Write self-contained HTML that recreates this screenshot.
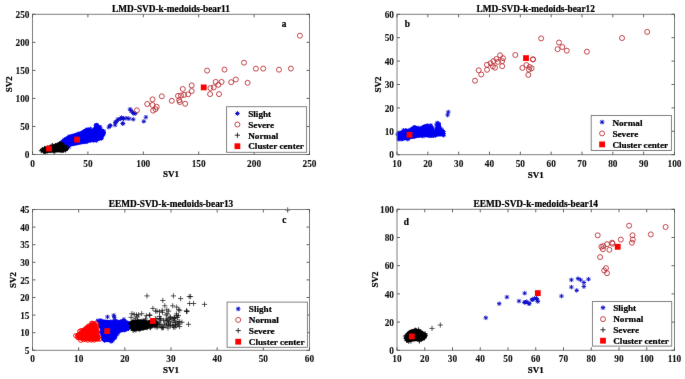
<!DOCTYPE html>
<html><head><meta charset="utf-8"><style>
html,body{margin:0;padding:0;background:#fff;}
svg{display:block;}
text{font-family:"Liberation Serif", serif;fill:#000;stroke:#000;stroke-width:0.22px;}
text.t{stroke-width:0.1px;fill:#111;stroke:#111;}
</style></head><body>
<svg width="685" height="379" viewBox="0 0 685 379">
<defs><filter id="bl" x="0" y="0" width="1" height="1" color-interpolation-filters="sRGB"><feConvolveMatrix order="3" kernelMatrix="0.0035 0.0587 0.0035 0.0587 1.0000 0.0587 0.0035 0.0587 0.0035" edgeMode="duplicate" preserveAlpha="true"/></filter></defs>
<rect width="685" height="379" fill="#fff"/>
<g filter="url(#bl)">
<rect width="685" height="379" fill="#fff"/>
<text x="171" y="11.7" text-anchor="middle" font-size="9.3" font-weight="bold">LMD-SVD-k-medoids-bear11</text>
<path d="M60.4 141.5L62 139.7L66 136.8L70 134.8L75 133.3L80 131.8L83 130.1L86 128.2L89 129L92 129L95 126L97.6 123.2L99.6 125.7L102.1 128.6L104.4 131.2L105.5 133.5L104.6 136L102.8 138L100 140L95 141.5L90 142.5L85 143.5L80 144.5L75 145.5L70 146.5L66.4 147.5L65.5 145L62.7 142.5Z" fill="#0000f0" stroke="#0000f0" stroke-width="0.3" stroke-linejoin="round"/>
<path d="M59.73 142.58H64.13M61.93 140.38V144.78M60.35 141L63.52 144.17M60.35 144.17L63.52 141M61.36 141.66H65.76M63.56 139.46V143.86M61.97 140.08L65.14 143.25M61.97 143.25L65.14 140.08M62.12 139.94H66.52M64.32 137.74V142.14M62.73 138.36L65.9 141.53M62.73 141.53L65.9 138.36M63.97 139.25H68.37M66.17 137.05V141.45M64.58 137.66L67.75 140.83M64.58 140.83L67.75 137.66M65.01 138.74H69.41M67.21 136.54V140.94M65.62 137.16L68.79 140.33M65.62 140.33L68.79 137.16M66.02 138.72H70.42M68.22 136.52V140.92M66.64 137.13L69.81 140.3M66.64 140.3L69.81 137.13M66.86 136.69H71.26M69.06 134.49V138.89M67.48 135.11L70.65 138.27M67.48 138.27L70.65 135.11M68.2 137.06H72.6M70.4 134.86V139.26M68.81 135.48L71.98 138.64M68.81 138.64L71.98 135.48M69.96 136.7H74.36M72.16 134.5V138.9M70.58 135.11L73.74 138.28M70.58 138.28L73.74 135.11M72.12 135.88H76.52M74.32 133.68V138.08M72.74 134.29L75.9 137.46M72.74 137.46L75.9 134.29M73.57 135.68H77.97M75.77 133.48V137.88M74.19 134.1L77.36 137.27M74.19 137.27L77.36 134.1M74.76 134.83H79.16M76.96 132.63V137.03M75.38 133.25L78.54 136.42M75.38 136.42L78.54 133.25M76.83 133.87H81.23M79.03 131.67V136.07M77.45 132.29L80.62 135.45M77.45 135.45L80.62 132.29M78.62 133.39H83.02M80.82 131.19V135.59M79.24 131.81L82.41 134.98M79.24 134.98L82.41 131.81M80.27 132.55H84.67M82.47 130.35V134.75M80.88 130.96L84.05 134.13M80.88 134.13L84.05 130.96M82.34 131.55H86.74M84.54 129.35V133.75M82.96 129.97L86.13 133.14M82.96 133.14L86.13 129.97M83.51 130.9H87.91M85.71 128.7V133.1M84.12 129.32L87.29 132.49M84.12 132.49L87.29 129.32M83.01 131.18H87.41M85.21 128.98V133.38M83.62 129.59L86.79 132.76M83.62 132.76L86.79 129.59M84.81 129.48H89.21M87.01 127.28V131.68M85.42 127.89L88.59 131.06M85.42 131.06L88.59 127.89M86.42 129.83H90.82M88.62 127.63V132.03M87.03 128.25L90.2 131.41M87.03 131.41L90.2 128.25M88.11 128.86H92.51M90.31 126.66V131.06M88.72 127.27L91.89 130.44M88.72 130.44L91.89 127.27M91.23 130.94H95.63M93.43 128.74V133.14M91.85 129.36L95.01 132.53M91.85 132.53L95.01 129.36M92.81 129.59H97.21M95.01 127.39V131.79M93.42 128.01L96.59 131.18M93.42 131.18L96.59 128.01M93.23 128.67H97.63M95.43 126.47V130.87M93.84 127.09L97.01 130.26M93.84 130.26L97.01 127.09M94.29 127.58H98.69M96.49 125.38V129.78M94.91 126L98.08 129.16M94.91 129.16L98.08 126M94.43 124.97H98.83M96.63 122.77V127.17M95.04 123.39L98.21 126.56M95.04 126.56L98.21 123.39M93.47 125.31H97.87M95.67 123.11V127.51M94.08 123.73L97.25 126.89M94.08 126.89L97.25 123.73M94.26 126.03H98.66M96.46 123.83V128.23M94.87 124.45L98.04 127.62M94.87 127.62L98.04 124.45M95.94 126.76H100.34M98.14 124.56V128.96M96.55 125.18L99.72 128.35M96.55 128.35L99.72 125.18M98.05 127.16H102.45M100.25 124.96V129.36M98.66 125.58L101.83 128.74M98.66 128.74L101.83 125.58M97.49 130.62H101.89M99.69 128.42V132.82M98.1 129.04L101.27 132.21M98.1 132.21L101.27 129.04M99.41 131H103.81M101.61 128.8V133.2M100.03 129.42L103.2 132.59M100.03 132.59L103.2 129.42M101.42 131.07H105.82M103.62 128.87V133.27M102.04 129.49L105.21 132.66M102.04 132.66L105.21 129.49M101.65 132.56H106.05M103.85 130.36V134.76M102.27 130.98L105.44 134.14M102.27 134.14L105.44 130.98M100.48 134.07H104.88M102.68 131.87V136.27M101.1 132.48L104.27 135.65M101.1 135.65L104.27 132.48M99.58 136.43H103.98M101.78 134.23V138.63M100.2 134.85L103.37 138.02M100.2 138.02L103.37 134.85M99.33 138.45H103.73M101.53 136.25V140.65M99.95 136.86L103.11 140.03M99.95 140.03L103.11 136.86M96.94 138.57H101.34M99.14 136.37V140.77M97.56 136.99L100.72 140.15M97.56 140.15L100.72 136.99M95.38 139.17H99.78M97.58 136.97V141.37M96 137.59L99.17 140.76M96 140.76L99.17 137.59M94.03 140.66H98.43M96.23 138.46V142.86M94.64 139.08L97.81 142.25M94.64 142.25L97.81 139.08M92.71 139.79H97.11M94.91 137.59V141.99M93.32 138.2L96.49 141.37M93.32 141.37L96.49 138.2M91.16 140.42H95.56M93.36 138.22V142.62M91.77 138.83L94.94 142M91.77 142L94.94 138.83M89.12 139.86H93.52M91.32 137.66V142.06M89.73 138.27L92.9 141.44M89.73 141.44L92.9 138.27M87.01 139.73H91.41M89.21 137.53V141.93M87.63 138.14L90.8 141.31M87.63 141.31L90.8 138.14M85.42 140.31H89.82M87.62 138.11V142.51M86.04 138.72L89.2 141.89M86.04 141.89L89.2 138.72M83.82 141.94H88.22M86.02 139.74V144.14M84.43 140.36L87.6 143.53M84.43 143.53L87.6 140.36M82.66 141.53H87.06M84.86 139.33V143.73M83.27 139.94L86.44 143.11M83.27 143.11L86.44 139.94M80.53 141.68H84.93M82.73 139.48V143.88M81.15 140.1L84.32 143.27M81.15 143.27L84.32 140.1M79.25 141.11H83.65M81.45 138.91V143.31M79.87 139.53L83.03 142.69M79.87 142.69L83.03 139.53M77.25 141.89H81.65M79.45 139.69V144.09M77.87 140.3L81.04 143.47M77.87 143.47L81.04 140.3M75.94 142.24H80.34M78.14 140.04V144.44M76.56 140.65L79.73 143.82M76.56 143.82L79.73 140.65M74.06 142.55H78.46M76.26 140.35V144.75M74.68 140.97L77.85 144.13M74.68 144.13L77.85 140.97M72.64 143.23H77.04M74.84 141.03V145.43M73.26 141.64L76.43 144.81M73.26 144.81L76.43 141.64M70.9 143.02H75.3M73.1 140.82V145.22M71.52 141.43L74.69 144.6M71.52 144.6L74.69 141.43M68.96 143.2H73.36M71.16 141V145.4M69.58 141.61L72.75 144.78M69.58 144.78L72.75 141.61M66.77 143.81H71.17M68.97 141.61V146.01M67.39 142.22L70.56 145.39M67.39 145.39L70.56 142.22M65.42 144.55H69.82M67.62 142.35V146.75M66.04 142.97L69.2 146.14M66.04 146.14L69.2 142.97M66.67 146.88H71.07M68.87 144.68V149.08M67.29 145.29L70.46 148.46M67.29 148.46L70.46 145.29M64.55 143.6H68.95M66.75 141.4V145.8M65.17 142.02L68.34 145.18M65.17 145.18L68.34 142.02M62.64 143.15H67.04M64.84 140.95V145.35M63.26 141.56L66.43 144.73M63.26 144.73L66.43 141.56M60.88 141.35H65.28M63.08 139.15V143.55M61.5 139.76L64.67 142.93M61.5 142.93L64.67 139.76" stroke="#0000f0" stroke-width="1.0" fill="none"/>
<path d="M106.55 127.2H111.05M108.8 124.95V129.45M107.18 125.58L110.42 128.82M107.18 128.82L110.42 125.58M108.05 125.6H112.55M110.3 123.35V127.85M108.68 123.98L111.92 127.22M108.68 127.22L111.92 123.98M112.85 125H117.35M115.1 122.75V127.25M113.48 123.38L116.72 126.62M113.48 126.62L116.72 123.38M113.85 121.9H118.35M116.1 119.65V124.15M114.48 120.28L117.72 123.52M114.48 123.52L117.72 120.28M115.95 119.2H120.45M118.2 116.95V121.45M116.58 117.58L119.82 120.82M116.58 120.82L119.82 117.58M119.15 117.7H123.65M121.4 115.45V119.95M119.78 116.08L123.02 119.32M119.78 119.32L123.02 116.08M120.75 123.5H125.25M123 121.25V125.75M121.38 121.88L124.62 125.12M121.38 125.12L124.62 121.88M121.25 118.7H125.75M123.5 116.45V120.95M121.88 117.08L125.12 120.32M121.88 120.32L125.12 117.08M107.75 125.6H112.25M110 123.35V127.85M108.38 123.98L111.62 127.22M108.38 127.22L111.62 123.98M113.05 122.4H117.55M115.3 120.15V124.65M113.68 120.78L116.92 124.02M113.68 124.02L116.92 120.78M115.15 120.3H119.65M117.4 118.05V122.55M115.78 118.68L119.02 121.92M115.78 121.92L119.02 118.68M118.25 118.7H122.75M120.5 116.45V120.95M118.88 117.08L122.12 120.32M118.88 120.32L122.12 117.08M121.45 118.2H125.95M123.7 115.95V120.45M122.08 116.58L125.32 119.82M122.08 119.82L125.32 116.58M124.65 118.2H129.15M126.9 115.95V120.45M125.28 116.58L128.52 119.82M125.28 119.82L128.52 116.58M126.75 118.7H131.25M129 116.45V120.95M127.38 117.08L130.62 120.32M127.38 120.32L130.62 117.08M120.45 123.5H124.95M122.7 121.25V125.75M121.08 121.88L124.32 125.12M121.08 125.12L124.32 121.88M127.75 109.2H132.25M130 106.95V111.45M128.38 107.58L131.62 110.82M128.38 110.82L131.62 107.58M128.85 110.8H133.35M131.1 108.55V113.05M129.48 109.18L132.72 112.42M129.48 112.42L132.72 109.18M130.45 112.4H134.95M132.7 110.15V114.65M131.08 110.78L134.32 114.02M131.08 114.02L134.32 110.78M131.45 113.5H135.95M133.7 111.25V115.75M132.08 111.88L135.32 115.12M132.08 115.12L135.32 111.88M133.05 113.5H137.55M135.3 111.25V115.75M133.68 111.88L136.92 115.12M133.68 115.12L136.92 111.88M130.95 119.3H135.45M133.2 117.05V121.55M131.58 117.68L134.82 120.92M131.58 120.92L134.82 117.68M143.65 117.2H148.15M145.9 114.95V119.45M144.28 115.58L147.52 118.82M144.28 118.82L147.52 115.58M141.55 121.4H146.05M143.8 119.15V123.65M142.18 119.78L145.42 123.02M142.18 123.02L145.42 119.78" stroke="#0c0cc8" stroke-width="0.9" fill="none"/>
<circle cx="136.9" cy="110.3" r="2.5" fill="none" stroke="#bc3038" stroke-width="0.9"/>
<circle cx="147.2" cy="104" r="2.5" fill="none" stroke="#bc3038" stroke-width="0.9"/>
<circle cx="152.5" cy="99.4" r="2.5" fill="none" stroke="#bc3038" stroke-width="0.9"/>
<circle cx="152.5" cy="105" r="2.5" fill="none" stroke="#bc3038" stroke-width="0.9"/>
<circle cx="156.7" cy="106.8" r="2.5" fill="none" stroke="#bc3038" stroke-width="0.9"/>
<circle cx="155.5" cy="109.1" r="2.5" fill="none" stroke="#bc3038" stroke-width="0.9"/>
<circle cx="153.1" cy="110.6" r="2.5" fill="none" stroke="#bc3038" stroke-width="0.9"/>
<circle cx="161.8" cy="96.3" r="2.5" fill="none" stroke="#bc3038" stroke-width="0.9"/>
<circle cx="171.8" cy="100.8" r="2.5" fill="none" stroke="#bc3038" stroke-width="0.9"/>
<circle cx="178" cy="95.9" r="2.5" fill="none" stroke="#bc3038" stroke-width="0.9"/>
<circle cx="181" cy="95.5" r="2.5" fill="none" stroke="#bc3038" stroke-width="0.9"/>
<circle cx="184" cy="94.9" r="2.5" fill="none" stroke="#bc3038" stroke-width="0.9"/>
<circle cx="188.1" cy="94.3" r="2.5" fill="none" stroke="#bc3038" stroke-width="0.9"/>
<circle cx="182.8" cy="89" r="2.5" fill="none" stroke="#bc3038" stroke-width="0.9"/>
<circle cx="191.7" cy="85.4" r="2.5" fill="none" stroke="#bc3038" stroke-width="0.9"/>
<circle cx="191.7" cy="91.1" r="2.5" fill="none" stroke="#bc3038" stroke-width="0.9"/>
<circle cx="179.2" cy="100.2" r="2.5" fill="none" stroke="#bc3038" stroke-width="0.9"/>
<circle cx="179.8" cy="102" r="2.5" fill="none" stroke="#bc3038" stroke-width="0.9"/>
<circle cx="185.2" cy="103.8" r="2.5" fill="none" stroke="#bc3038" stroke-width="0.9"/>
<circle cx="207.1" cy="70.6" r="2.5" fill="none" stroke="#bc3038" stroke-width="0.9"/>
<circle cx="224.5" cy="69.6" r="2.5" fill="none" stroke="#bc3038" stroke-width="0.9"/>
<circle cx="244" cy="62.7" r="2.5" fill="none" stroke="#bc3038" stroke-width="0.9"/>
<circle cx="255.9" cy="68.7" r="2.5" fill="none" stroke="#bc3038" stroke-width="0.9"/>
<circle cx="215.7" cy="81.9" r="2.5" fill="none" stroke="#bc3038" stroke-width="0.9"/>
<circle cx="218.3" cy="84.8" r="2.5" fill="none" stroke="#bc3038" stroke-width="0.9"/>
<circle cx="221.6" cy="81.9" r="2.5" fill="none" stroke="#bc3038" stroke-width="0.9"/>
<circle cx="231.2" cy="82.2" r="2.5" fill="none" stroke="#bc3038" stroke-width="0.9"/>
<circle cx="235.8" cy="79.5" r="2.5" fill="none" stroke="#bc3038" stroke-width="0.9"/>
<circle cx="247.6" cy="82.8" r="2.5" fill="none" stroke="#bc3038" stroke-width="0.9"/>
<circle cx="210.4" cy="88.1" r="2.5" fill="none" stroke="#bc3038" stroke-width="0.9"/>
<circle cx="213.7" cy="87.4" r="2.5" fill="none" stroke="#bc3038" stroke-width="0.9"/>
<circle cx="210.1" cy="94.1" r="2.5" fill="none" stroke="#bc3038" stroke-width="0.9"/>
<circle cx="219" cy="94.1" r="2.5" fill="none" stroke="#bc3038" stroke-width="0.9"/>
<circle cx="263.2" cy="68.6" r="2.5" fill="none" stroke="#bc3038" stroke-width="0.9"/>
<circle cx="279" cy="69.7" r="2.5" fill="none" stroke="#bc3038" stroke-width="0.9"/>
<circle cx="290.9" cy="68.6" r="2.5" fill="none" stroke="#bc3038" stroke-width="0.9"/>
<circle cx="299.9" cy="35.7" r="2.5" fill="none" stroke="#bc3038" stroke-width="0.9"/>
<path d="M40.1 149.8L41.5 148.3L44.2 147.2L48.9 145.8L53.5 144.3L57.2 143L60.4 141.6L62.7 142.5L65.5 145.5L67.3 147.7L68.7 149.2L67.3 150.8L62.7 152.3L58.1 152.3L53.5 152.5L48.9 152.8L44.2 152.8L41.5 152.1Z" fill="#000000" stroke="#000000" stroke-width="0.3" stroke-linejoin="round"/>
<path d="M38.87 150.81H43.67M41.27 148.41V153.21M40 149.48H44.8M42.4 147.08V151.88M41.65 150.23H46.45M44.05 147.83V152.63M42.15 148.29H46.95M44.55 145.89V150.69M43.61 148.41H48.41M46.01 146.01V150.81M45.23 147.87H50.03M47.63 145.47V150.27M47.4 147.85H52.2M49.8 145.45V150.25M48.31 147.02H53.11M50.71 144.62V149.42M49.85 145.27H54.65M52.25 142.87V147.67M51.77 147.11H56.57M54.17 144.71V149.51M53.15 145.65H57.95M55.55 143.25V148.05M55.7 144.75H60.5M58.1 142.35V147.15M57.03 144.56H61.83M59.43 142.16V146.96M57.09 143.68H61.89M59.49 141.28V146.08M58.72 143.98H63.52M61.12 141.58V146.38M60.3 145.09H65.1M62.7 142.69V147.49M61.34 147.38H66.14M63.74 144.98V149.78M62.02 147.67H66.82M64.42 145.27V150.07M63.5 148.69H68.3M65.9 146.29V151.09M64.3 147.2H69.1M66.7 144.8V149.6M64.11 148.75H68.91M66.51 146.35V151.15M63.02 150.14H67.82M65.42 147.74V152.54M61.17 150.32H65.97M63.57 147.92V152.72M60.47 150.28H65.27M62.87 147.88V152.68M58.62 150.73H63.42M61.02 148.33V153.13M57.05 149.58H61.85M59.45 147.18V151.98M55.56 149.51H60.36M57.96 147.11V151.91M53.92 149.57H58.72M56.32 147.17V151.97M52.41 151.32H57.21M54.81 148.92V153.72M51.24 151.1H56.04M53.64 148.7V153.5M49.33 150.08H54.13M51.73 147.68V152.48M47.65 150.4H52.45M50.05 148V152.8M46.59 150H51.39M48.99 147.6V152.4M45.08 150.95H49.88M47.48 148.55V153.35M43.19 152.67H47.99M45.59 150.27V155.07M42.2 152.06H47M44.6 149.66V154.46M41.1 151.37H45.9M43.5 148.97V153.77" stroke="#000000" stroke-width="0.9" fill="none"/>
<rect x="46.1" y="145.7" width="5.8" height="5.8" fill="#ff0000"/>
<rect x="74.2" y="136.7" width="5.8" height="5.8" fill="#ff0000"/>
<rect x="200.8" y="84.5" width="5.8" height="5.8" fill="#ff0000"/>
<rect x="32.5" y="14.3" width="277" height="140.2" fill="none" stroke="#808080" stroke-width="1"/>
<text x="32.5" y="166.5" text-anchor="middle" font-size="9.3" font-weight="bold" class="t">0</text>
<text x="87.9" y="166.5" text-anchor="middle" font-size="9.3" font-weight="bold" class="t">50</text>
<text x="143.3" y="166.5" text-anchor="middle" font-size="9.3" font-weight="bold" class="t">100</text>
<text x="198.7" y="166.5" text-anchor="middle" font-size="9.3" font-weight="bold" class="t">150</text>
<text x="254.1" y="166.5" text-anchor="middle" font-size="9.3" font-weight="bold" class="t">200</text>
<text x="309.5" y="166.5" text-anchor="middle" font-size="9.3" font-weight="bold" class="t">250</text>
<text x="29.5" y="158.1" text-anchor="end" font-size="9.3" font-weight="bold" class="t">0</text>
<text x="29.5" y="130.06" text-anchor="end" font-size="9.3" font-weight="bold" class="t">50</text>
<text x="29.5" y="102.02" text-anchor="end" font-size="9.3" font-weight="bold" class="t">100</text>
<text x="29.5" y="73.98" text-anchor="end" font-size="9.3" font-weight="bold" class="t">150</text>
<text x="29.5" y="45.94" text-anchor="end" font-size="9.3" font-weight="bold" class="t">200</text>
<text x="29.5" y="17.9" text-anchor="end" font-size="9.3" font-weight="bold" class="t">250</text>
<path d="M32.5 154.5v-3M32.5 14.3v3M87.9 154.5v-3M87.9 14.3v3M143.3 154.5v-3M143.3 14.3v3M198.7 154.5v-3M198.7 14.3v3M254.1 154.5v-3M254.1 14.3v3M309.5 154.5v-3M309.5 14.3v3M32.5 154.5h3M309.5 154.5h-3M32.5 126.46h3M309.5 126.46h-3M32.5 98.42h3M309.5 98.42h-3M32.5 70.38h3M309.5 70.38h-3M32.5 42.34h3M309.5 42.34h-3M32.5 14.3h3M309.5 14.3h-3" stroke="#505050" stroke-width="0.9" fill="none"/>
<text x="171" y="177.3" text-anchor="middle" font-size="9" font-weight="bold">SV1</text>
<text transform="translate(12.2 84.3) rotate(-90)" text-anchor="middle" font-size="9" font-weight="bold">SV2</text>
<text x="281.8" y="26.8" font-size="9.3" font-weight="bold">a</text>
<rect x="226.6" y="106.7" width="80" height="45.6" fill="#fff" stroke="#767676" stroke-width="0.9"/>
<path d="M235.1 113.5H239.7M237.4 111.2V115.8M235.74 111.84L239.06 115.16M235.74 115.16L239.06 111.84" stroke="#0c0cc8" stroke-width="1.0" fill="none"/>
<text x="248.2" y="116.6" font-size="9.2" font-weight="bold">Slight</text>
<circle cx="237.4" cy="124.5" r="2.5" fill="none" stroke="#bc3038" stroke-width="0.9"/>
<text x="248.2" y="127.7" font-size="9.2" font-weight="bold">Severe</text>
<path d="M234.8 135.2H240M237.4 132.6V137.8" stroke="#000000" stroke-width="0.8" fill="none"/>
<text x="248.2" y="138.5" font-size="9.2" font-weight="bold">Normal</text>
<rect x="234.5" y="143.3" width="5.8" height="5.8" fill="#ff0000"/>
<text x="248.2" y="149.4" font-size="9.2" font-weight="bold">Cluster center</text>
<text x="535.75" y="11.7" text-anchor="middle" font-size="9.3" font-weight="bold">LMD-SVD-k-medoids-bear12</text>
<path d="M397.2 132.4L397.9 131.5L403.7 130.2L409.5 128.8L413.4 125.6L415.8 125.6L418.6 127.6L421.5 126.4L424 124.8L427.8 124L430.7 125L433.5 127.8L434.8 130L435.8 126L436.8 122.3L438.6 122.3L440.5 124.8L441.2 128.4L443.4 131.3L445.6 133.4L444 135.5L439.5 136L432.7 137.6L424 137L416.8 137.7L409.5 139.2L402.3 140.6L397.2 139.2Z" fill="#0000f0" stroke="#0000f0" stroke-width="0.3" stroke-linejoin="round"/>
<path d="M397.4 133.83H401.8M399.6 131.63V136.03M398.01 132.25L401.18 135.42M398.01 135.42L401.18 132.25M396.5 134.29H400.9M398.7 132.09V136.49M397.12 132.7L400.29 135.87M397.12 135.87L400.29 132.7M398.06 133.32H402.46M400.26 131.12V135.52M398.68 131.74L401.85 134.9M398.68 134.9L401.85 131.74M399.07 133.53H403.47M401.27 131.33V135.73M399.69 131.94L402.86 135.11M399.69 135.11L402.86 131.94M400.64 131.9H405.04M402.84 129.7V134.1M401.25 130.32L404.42 133.48M401.25 133.48L404.42 130.32M401.57 130.2H405.97M403.77 128V132.4M402.18 128.62L405.35 131.79M402.18 131.79L405.35 128.62M403.39 130.49H407.79M405.59 128.29V132.69M404.01 128.9L407.17 132.07M404.01 132.07L407.17 128.9M404.42 130.71H408.82M406.62 128.51V132.91M405.03 129.13L408.2 132.3M405.03 132.3L408.2 129.13M406.19 130.75H410.59M408.39 128.55V132.95M406.8 129.16L409.97 132.33M406.8 132.33L409.97 129.16M408.24 129.88H412.64M410.44 127.68V132.08M408.85 128.3L412.02 131.46M408.85 131.46L412.02 128.3M410.21 130.05H414.61M412.41 127.85V132.25M410.82 128.47L413.99 131.64M410.82 131.64L413.99 128.47M411.4 128.49H415.8M413.6 126.29V130.69M412.02 126.91L415.19 130.08M412.02 130.08L415.19 126.91M411.47 128.68H415.87M413.67 126.48V130.88M412.08 127.1L415.25 130.27M412.08 130.27L415.25 127.1M412.22 127.62H416.62M414.42 125.42V129.82M412.83 126.04L416 129.21M412.83 129.21L416 126.04M413.68 128.32H418.08M415.88 126.12V130.52M414.3 126.74L417.47 129.91M414.3 129.91L417.47 126.74M416.53 127.9H420.93M418.73 125.7V130.1M417.14 126.32L420.31 129.49M417.14 129.49L420.31 126.32M418.88 129.19H423.28M421.08 126.99V131.39M419.49 127.61L422.66 130.77M419.49 130.77L422.66 127.61M419.98 127.78H424.38M422.18 125.58V129.98M420.6 126.19L423.76 129.36M420.6 129.36L423.76 126.19M421.58 127.25H425.98M423.78 125.05V129.45M422.2 125.67L425.36 128.84M422.2 128.84L425.36 125.67M421.97 126.64H426.37M424.17 124.44V128.84M422.58 125.06L425.75 128.23M422.58 128.23L425.75 125.06M423.94 126.96H428.34M426.14 124.76V129.16M424.55 125.37L427.72 128.54M424.55 128.54L427.72 125.37M424.85 125.6H429.25M427.05 123.4V127.8M425.47 124.02L428.63 127.19M425.47 127.19L428.63 124.02M426.41 126.91H430.81M428.61 124.71V129.11M427.02 125.33L430.19 128.5M427.02 128.5L430.19 125.33M428.63 125.29H433.03M430.83 123.09V127.49M429.25 123.71L432.41 126.88M429.25 126.88L432.41 123.71M428.23 128.22H432.63M430.43 126.02V130.42M428.84 126.64L432.01 129.8M428.84 129.8L432.01 126.64M430.31 127.95H434.71M432.51 125.75V130.15M430.92 126.36L434.09 129.53M430.92 129.53L434.09 126.36M434.34 130.42H438.74M436.54 128.22V132.62M434.95 128.84L438.12 132.01M434.95 132.01L438.12 128.84M434.66 128.52H439.06M436.86 126.32V130.72M435.27 126.93L438.44 130.1M435.27 130.1L438.44 126.93M436.05 126.5H440.45M438.25 124.3V128.7M436.67 124.92L439.84 128.09M436.67 128.09L439.84 124.92M436.57 124.86H440.97M438.77 122.66V127.06M437.18 123.28L440.35 126.45M437.18 126.45L440.35 123.28M434.25 124.91H438.65M436.45 122.71V127.11M434.87 123.33L438.04 126.5M434.87 126.5L438.04 123.33M435.06 122.93H439.46M437.26 120.73V125.13M435.67 121.35L438.84 124.52M435.67 124.52L438.84 121.35M436.56 123.75H440.96M438.76 121.55V125.95M437.17 122.17L440.34 125.34M437.17 125.34L440.34 122.17M436 124.96H440.4M438.2 122.76V127.16M436.61 123.38L439.78 126.55M436.61 126.55L439.78 123.38M436.96 126.78H441.36M439.16 124.58V128.98M437.58 125.19L440.75 128.36M437.58 128.36L440.75 125.19M438.81 129.17H443.21M441.01 126.97V131.37M439.43 127.59L442.59 130.76M439.43 130.76L442.59 127.59M439.38 129.91H443.78M441.58 127.71V132.11M439.99 128.33L443.16 131.5M439.99 131.5L443.16 128.33M439.74 132.35H444.14M441.94 130.15V134.55M440.36 130.77L443.53 133.94M440.36 133.94L443.53 130.77M440.71 134.29H445.11M442.91 132.09V136.49M441.33 132.71L444.5 135.88M441.33 135.88L444.5 132.71M441.3 131.55H445.7M443.5 129.35V133.75M441.92 129.97L445.08 133.14M441.92 133.14L445.08 129.97M441.49 135.26H445.89M443.69 133.06V137.46M442.1 133.67L445.27 136.84M442.1 136.84L445.27 133.67M439.85 133.34H444.25M442.05 131.14V135.54M440.47 131.76L443.63 134.92M440.47 134.92L443.63 131.76M438.67 134.44H443.07M440.87 132.24V136.64M439.29 132.86L442.46 136.02M439.29 136.02L442.46 132.86M436.84 134.13H441.24M439.04 131.93V136.33M437.46 132.54L440.62 135.71M437.46 135.71L440.62 132.54M435.16 133.7H439.56M437.36 131.5V135.9M435.78 132.11L438.95 135.28M435.78 135.28L438.95 132.11M433.29 135.26H437.69M435.49 133.06V137.46M433.91 133.67L437.07 136.84M433.91 136.84L437.07 133.67M431.45 135.61H435.85M433.65 133.41V137.81M432.07 134.02L435.24 137.19M432.07 137.19L435.24 134.02M430.29 134.7H434.69M432.49 132.5V136.9M430.91 133.11L434.08 136.28M430.91 136.28L434.08 133.11M429.31 135.06H433.71M431.51 132.86V137.26M429.92 133.48L433.09 136.65M429.92 136.65L433.09 133.48M427.75 135.93H432.15M429.95 133.73V138.13M428.36 134.35L431.53 137.51M428.36 137.51L431.53 134.35M426.53 134.8H430.93M428.73 132.6V137M427.15 133.22L430.32 136.39M427.15 136.39L430.32 133.22M424.71 134.61H429.11M426.91 132.41V136.81M425.32 133.02L428.49 136.19M425.32 136.19L428.49 133.02M423.22 134.38H427.62M425.42 132.18V136.58M423.84 132.8L427.01 135.97M423.84 135.97L427.01 132.8M421.96 134.98H426.36M424.16 132.78V137.18M422.57 133.39L425.74 136.56M422.57 136.56L425.74 133.39M420.65 136.08H425.05M422.85 133.88V138.28M421.27 134.5L424.44 137.67M421.27 137.67L424.44 134.5M418.98 134.19H423.38M421.18 131.99V136.39M419.59 132.6L422.76 135.77M419.59 135.77L422.76 132.6M417.35 135.43H421.75M419.55 133.23V137.63M417.97 133.85L421.13 137.02M417.97 137.02L421.13 133.85M415.7 135.42H420.1M417.9 133.22V137.62M416.31 133.83L419.48 137M416.31 137L419.48 133.83M413.82 135.8H418.22M416.02 133.6V138M414.43 134.22L417.6 137.39M414.43 137.39L417.6 134.22M412.73 136.5H417.13M414.93 134.3V138.7M413.35 134.92L416.52 138.09M413.35 138.09L416.52 134.92M411.38 136.27H415.78M413.58 134.07V138.47M412 134.69L415.16 137.86M412 137.86L415.16 134.69M410.1 136.56H414.5M412.3 134.36V138.76M410.72 134.98L413.88 138.15M410.72 138.15L413.88 134.98M408.16 136.52H412.56M410.36 134.32V138.72M408.78 134.93L411.94 138.1M408.78 138.1L411.94 134.93M406.7 136.35H411.1M408.9 134.15V138.55M407.32 134.76L410.48 137.93M407.32 137.93L410.48 134.76M405.64 139.29H410.04M407.84 137.09V141.49M406.26 137.71L409.42 140.88M406.26 140.88L409.42 137.71M403.8 137.21H408.2M406 135.01V139.41M404.42 135.63L407.59 138.8M404.42 138.8L407.59 135.63M402.3 137.79H406.7M404.5 135.59V139.99M402.92 136.2L406.08 139.37M402.92 139.37L406.08 136.2M400.62 137.2H405.02M402.82 135V139.4M401.24 135.62L404.41 138.79M401.24 138.79L404.41 135.62M400.31 138.99H404.71M402.51 136.79V141.19M400.93 137.41L404.1 140.57M400.93 140.57L404.1 137.41M398.81 139.15H403.21M401.01 136.95V141.35M399.43 137.56L402.59 140.73M399.43 140.73L402.59 137.56M397.2 137.31H401.6M399.4 135.11V139.51M397.81 135.73L400.98 138.9M397.81 138.9L400.98 135.73M396.56 139.34H400.96M398.76 137.14V141.54M397.18 137.76L400.35 140.93M397.18 140.93L400.35 137.76M396.91 137.73H401.31M399.11 135.53V139.93M397.53 136.15L400.69 139.32M397.53 139.32L400.69 136.15M396.79 136.11H401.19M398.99 133.91V138.31M397.41 134.53L400.58 137.7M397.41 137.7L400.58 134.53M395.4 134.26H399.8M397.6 132.06V136.46M396.02 132.68L399.19 135.84M396.02 135.84L399.19 132.68" stroke="#0000f0" stroke-width="1.0" fill="none"/>
<path d="M446.05 112H450.55M448.3 109.75V114.25M446.68 110.38L449.92 113.62M446.68 113.62L449.92 110.38M445.35 115H449.85M447.6 112.75V117.25M445.98 113.38L449.22 116.62M445.98 116.62L449.22 113.38" stroke="#0c0cc8" stroke-width="0.9" fill="none"/>
<circle cx="475" cy="80.7" r="2.5" fill="none" stroke="#bc3038" stroke-width="0.9"/>
<circle cx="478.7" cy="70.3" r="2.5" fill="none" stroke="#bc3038" stroke-width="0.9"/>
<circle cx="481.2" cy="74.5" r="2.5" fill="none" stroke="#bc3038" stroke-width="0.9"/>
<circle cx="487" cy="64.8" r="2.5" fill="none" stroke="#bc3038" stroke-width="0.9"/>
<circle cx="487" cy="69.8" r="2.5" fill="none" stroke="#bc3038" stroke-width="0.9"/>
<circle cx="490.6" cy="63.3" r="2.5" fill="none" stroke="#bc3038" stroke-width="0.9"/>
<circle cx="492.8" cy="66.2" r="2.5" fill="none" stroke="#bc3038" stroke-width="0.9"/>
<circle cx="493.5" cy="61.1" r="2.5" fill="none" stroke="#bc3038" stroke-width="0.9"/>
<circle cx="495" cy="67.7" r="2.5" fill="none" stroke="#bc3038" stroke-width="0.9"/>
<circle cx="496.4" cy="59" r="2.5" fill="none" stroke="#bc3038" stroke-width="0.9"/>
<circle cx="497.9" cy="61.9" r="2.5" fill="none" stroke="#bc3038" stroke-width="0.9"/>
<circle cx="500.1" cy="55.3" r="2.5" fill="none" stroke="#bc3038" stroke-width="0.9"/>
<circle cx="503" cy="58.2" r="2.5" fill="none" stroke="#bc3038" stroke-width="0.9"/>
<circle cx="502.2" cy="61.1" r="2.5" fill="none" stroke="#bc3038" stroke-width="0.9"/>
<circle cx="502.2" cy="66.2" r="2.5" fill="none" stroke="#bc3038" stroke-width="0.9"/>
<circle cx="515.3" cy="55" r="2.5" fill="none" stroke="#bc3038" stroke-width="0.9"/>
<circle cx="532.9" cy="59.4" r="2.5" fill="none" stroke="#bc3038" stroke-width="0.9"/>
<circle cx="522.4" cy="67.9" r="2.5" fill="none" stroke="#bc3038" stroke-width="0.9"/>
<circle cx="526.4" cy="65" r="2.5" fill="none" stroke="#bc3038" stroke-width="0.9"/>
<circle cx="529.6" cy="67" r="2.5" fill="none" stroke="#bc3038" stroke-width="0.9"/>
<circle cx="531.6" cy="68.3" r="2.5" fill="none" stroke="#bc3038" stroke-width="0.9"/>
<circle cx="529" cy="69.6" r="2.5" fill="none" stroke="#bc3038" stroke-width="0.9"/>
<circle cx="528.3" cy="74.9" r="2.5" fill="none" stroke="#bc3038" stroke-width="0.9"/>
<circle cx="533.1" cy="59.3" r="2.5" fill="none" stroke="#bc3038" stroke-width="0.9"/>
<circle cx="541.2" cy="38.4" r="2.5" fill="none" stroke="#bc3038" stroke-width="0.9"/>
<circle cx="559" cy="42.5" r="2.5" fill="none" stroke="#bc3038" stroke-width="0.9"/>
<circle cx="557.6" cy="49.2" r="2.5" fill="none" stroke="#bc3038" stroke-width="0.9"/>
<circle cx="562.3" cy="47" r="2.5" fill="none" stroke="#bc3038" stroke-width="0.9"/>
<circle cx="566.8" cy="50.7" r="2.5" fill="none" stroke="#bc3038" stroke-width="0.9"/>
<circle cx="586.9" cy="51.7" r="2.5" fill="none" stroke="#bc3038" stroke-width="0.9"/>
<circle cx="622" cy="38" r="2.5" fill="none" stroke="#bc3038" stroke-width="0.9"/>
<circle cx="647.2" cy="31.9" r="2.5" fill="none" stroke="#bc3038" stroke-width="0.9"/>
<rect x="406.6" y="131.9" width="5.8" height="5.8" fill="#ff0000"/>
<rect x="523.1" y="55.2" width="5.8" height="5.8" fill="#ff0000"/>
<rect x="397" y="14.3" width="277.5" height="140.4" fill="none" stroke="#808080" stroke-width="1"/>
<text x="397" y="166.7" text-anchor="middle" font-size="9.3" font-weight="bold" class="t">10</text>
<text x="427.83" y="166.7" text-anchor="middle" font-size="9.3" font-weight="bold" class="t">20</text>
<text x="458.67" y="166.7" text-anchor="middle" font-size="9.3" font-weight="bold" class="t">30</text>
<text x="489.5" y="166.7" text-anchor="middle" font-size="9.3" font-weight="bold" class="t">40</text>
<text x="520.33" y="166.7" text-anchor="middle" font-size="9.3" font-weight="bold" class="t">50</text>
<text x="551.17" y="166.7" text-anchor="middle" font-size="9.3" font-weight="bold" class="t">60</text>
<text x="582" y="166.7" text-anchor="middle" font-size="9.3" font-weight="bold" class="t">70</text>
<text x="612.83" y="166.7" text-anchor="middle" font-size="9.3" font-weight="bold" class="t">80</text>
<text x="643.67" y="166.7" text-anchor="middle" font-size="9.3" font-weight="bold" class="t">90</text>
<text x="674.5" y="166.7" text-anchor="middle" font-size="9.3" font-weight="bold" class="t">100</text>
<text x="394" y="158.3" text-anchor="end" font-size="9.3" font-weight="bold" class="t">0</text>
<text x="394" y="134.9" text-anchor="end" font-size="9.3" font-weight="bold" class="t">10</text>
<text x="394" y="111.5" text-anchor="end" font-size="9.3" font-weight="bold" class="t">20</text>
<text x="394" y="88.1" text-anchor="end" font-size="9.3" font-weight="bold" class="t">30</text>
<text x="394" y="64.7" text-anchor="end" font-size="9.3" font-weight="bold" class="t">40</text>
<text x="394" y="41.3" text-anchor="end" font-size="9.3" font-weight="bold" class="t">50</text>
<text x="394" y="17.9" text-anchor="end" font-size="9.3" font-weight="bold" class="t">60</text>
<path d="M397 154.7v-3M397 14.3v3M427.83 154.7v-3M427.83 14.3v3M458.67 154.7v-3M458.67 14.3v3M489.5 154.7v-3M489.5 14.3v3M520.33 154.7v-3M520.33 14.3v3M551.17 154.7v-3M551.17 14.3v3M582 154.7v-3M582 14.3v3M612.83 154.7v-3M612.83 14.3v3M643.67 154.7v-3M643.67 14.3v3M674.5 154.7v-3M674.5 14.3v3M397 154.7h3M674.5 154.7h-3M397 131.3h3M674.5 131.3h-3M397 107.9h3M674.5 107.9h-3M397 84.5h3M674.5 84.5h-3M397 61.1h3M674.5 61.1h-3M397 37.7h3M674.5 37.7h-3M397 14.3h3M674.5 14.3h-3" stroke="#505050" stroke-width="0.9" fill="none"/>
<text x="535.75" y="177.5" text-anchor="middle" font-size="9" font-weight="bold">SV1</text>
<text transform="translate(381.2 84.4) rotate(-90)" text-anchor="middle" font-size="9" font-weight="bold">SV2</text>
<text x="404.8" y="27" font-size="9.3" font-weight="bold">b</text>
<rect x="591.2" y="115.5" width="80.2" height="35" fill="#fff" stroke="#767676" stroke-width="0.9"/>
<path d="M599.8 122.1H604.4M602.1 119.8V124.4M600.44 120.44L603.76 123.76M600.44 123.76L603.76 120.44" stroke="#0c0cc8" stroke-width="1.0" fill="none"/>
<text x="612.4" y="125.6" font-size="9.2" font-weight="bold">Normal</text>
<circle cx="602.1" cy="133.4" r="2.5" fill="none" stroke="#bc3038" stroke-width="0.9"/>
<text x="612.4" y="136.5" font-size="9.2" font-weight="bold">Severe</text>
<rect x="599.2" y="141.5" width="5.8" height="5.8" fill="#ff0000"/>
<text x="612.4" y="147.5" font-size="9.2" font-weight="bold">Cluster center</text>
<text x="171" y="206.9" text-anchor="middle" font-size="9.3" font-weight="bold">EEMD-SVD-k-medoids-bear13</text>
<path d="M98 320.6L101.7 319.5L107 320L112.2 320.6L117.5 320.6L122.8 319.5L127 320.6L130.2 322.7L131.2 326.9L129.1 330.1L124.9 331.6L120.7 332.2L117.5 334.3L116.5 337.5L114.4 340.1L111.2 342.2L105.9 341.7L101.7 340.6L100.6 331.1L98.5 325.8Z" fill="#0000f0" stroke="#0000f0" stroke-width="0.3" stroke-linejoin="round"/>
<path d="M95.59 320.78H99.99M97.79 318.58V322.98M96.21 319.19L99.37 322.36M96.21 322.36L99.37 319.19M97.89 320.32H102.29M100.09 318.12V322.52M98.51 318.74L101.68 321.91M98.51 321.91L101.68 318.74M98.96 321.09H103.36M101.16 318.89V323.29M99.57 319.51L102.74 322.68M99.57 322.68L102.74 319.51M100.71 322.84H105.11M102.91 320.64V325.04M101.33 321.26L104.5 324.43M101.33 324.43L104.5 321.26M103.19 322.19H107.59M105.39 319.99V324.39M103.8 320.61L106.97 323.78M103.8 323.78L106.97 320.61M104.8 322.8H109.2M107 320.6V325M105.41 321.22L108.58 324.39M105.41 324.39L108.58 321.22M105.89 322.81H110.29M108.09 320.61V325.01M106.51 321.23L109.67 324.4M106.51 324.4L109.67 321.23M108.17 321.79H112.57M110.37 319.59V323.99M108.78 320.2L111.95 323.37M108.78 323.37L111.95 320.2M110.37 323.07H114.77M112.57 320.87V325.27M110.98 321.48L114.15 324.65M110.98 324.65L114.15 321.48M111.48 321.03H115.88M113.68 318.83V323.23M112.09 319.44L115.26 322.61M112.09 322.61L115.26 319.44M113.36 320.65H117.76M115.56 318.45V322.85M113.98 319.06L117.15 322.23M113.98 322.23L117.15 319.06M115.45 321.7H119.85M117.65 319.5V323.9M116.07 320.12L119.24 323.29M116.07 323.29L119.24 320.12M117.43 323.02H121.83M119.63 320.82V325.22M118.05 321.43L121.22 324.6M118.05 324.6L121.22 321.43M119.1 322.21H123.5M121.3 320.01V324.41M119.71 320.62L122.88 323.79M119.71 323.79L122.88 320.62M120.04 321.18H124.44M122.24 318.98V323.38M120.66 319.59L123.83 322.76M120.66 322.76L123.83 319.59M121.69 320.52H126.09M123.89 318.32V322.72M122.3 318.94L125.47 322.11M122.3 322.11L125.47 318.94M123.1 322.47H127.5M125.3 320.27V324.67M123.71 320.89L126.88 324.06M123.71 324.06L126.88 320.89M123.15 322.74H127.55M125.35 320.54V324.94M123.77 321.16L126.93 324.32M123.77 324.32L126.93 321.16M125.27 323.16H129.67M127.47 320.96V325.36M125.89 321.58L129.05 324.74M125.89 324.74L129.05 321.58M126.81 323.08H131.21M129.01 320.88V325.28M127.43 321.5L130.6 324.67M127.43 324.67L130.6 321.5M126.56 324.71H130.96M128.76 322.51V326.91M127.18 323.12L130.35 326.29M127.18 326.29L130.35 323.12M125.54 325.97H129.94M127.74 323.77V328.17M126.15 324.39L129.32 327.55M126.15 327.55L129.32 324.39M126.84 325.09H131.24M129.04 322.89V327.29M127.45 323.5L130.62 326.67M127.45 326.67L130.62 323.5M126.22 327.19H130.62M128.42 324.99V329.39M126.83 325.61L130 328.78M126.83 328.78L130 325.61M126.17 328.7H130.57M128.37 326.5V330.9M126.79 327.12L129.96 330.29M126.79 330.29L129.96 327.12M125.04 328.6H129.44M127.24 326.4V330.8M125.66 327.02L128.83 330.18M125.66 330.18L128.83 327.02M123.05 329.02H127.45M125.25 326.82V331.22M123.67 327.44L126.84 330.61M123.67 330.61L126.84 327.44M122.58 330.16H126.98M124.78 327.96V332.36M123.19 328.57L126.36 331.74M123.19 331.74L126.36 328.57M121 329.44H125.4M123.2 327.24V331.64M121.62 327.86L124.78 331.03M121.62 331.03L124.78 327.86M119.84 330.1H124.24M122.04 327.9V332.3M120.45 328.52L123.62 331.69M120.45 331.69L123.62 328.52M116.62 329.55H121.02M118.82 327.35V331.75M117.23 327.96L120.4 331.13M117.23 331.13L120.4 327.96M116.19 332.15H120.59M118.39 329.95V334.35M116.81 330.56L119.98 333.73M116.81 333.73L119.98 330.56M115.08 334.02H119.48M117.28 331.82V336.22M115.69 332.44L118.86 335.61M115.69 335.61L118.86 332.44M112.96 335.45H117.36M115.16 333.25V337.65M113.57 333.86L116.74 337.03M113.57 337.03L116.74 333.86M113.08 336.81H117.48M115.28 334.61V339.01M113.7 335.23L116.87 338.39M113.7 338.39L116.87 335.23M112.4 338.23H116.8M114.6 336.03V340.43M113.01 336.65L116.18 339.82M113.01 339.82L116.18 336.65M110.86 337.77H115.26M113.06 335.57V339.97M111.47 336.19L114.64 339.36M111.47 339.36L114.64 336.19M110.2 340.72H114.6M112.4 338.52V342.92M110.82 339.13L113.98 342.3M110.82 342.3L113.98 339.13M108.89 341.52H113.29M111.09 339.32V343.72M109.51 339.94L112.68 343.11M109.51 343.11L112.68 339.94M107.1 339.56H111.5M109.3 337.36V341.76M107.72 337.97L110.88 341.14M107.72 341.14L110.88 337.97M106.02 338.61H110.42M108.22 336.41V340.81M106.64 337.02L109.81 340.19M106.64 340.19L109.81 337.02M104.21 339.67H108.61M106.41 337.47V341.87M104.83 338.08L108 341.25M104.83 341.25L108 338.08M103.26 338.88H107.66M105.46 336.68V341.08M103.88 337.3L107.05 340.46M103.88 340.46L107.05 337.3M101.26 339.39H105.66M103.46 337.19V341.59M101.87 337.81L105.04 340.98M101.87 340.98L105.04 337.81M102.41 340.64H106.81M104.61 338.44V342.84M103.03 339.05L106.2 342.22M103.03 342.22L106.2 339.05M102.1 339.11H106.5M104.3 336.91V341.31M102.71 337.53L105.88 340.7M102.71 340.7L105.88 337.53M101.06 337.42H105.46M103.26 335.22V339.62M101.67 335.84L104.84 339.01M101.67 339.01L104.84 335.84M101.51 335.39H105.91M103.71 333.19V337.59M102.12 333.8L105.29 336.97M102.12 336.97L105.29 333.8M99.98 334.12H104.38M102.18 331.92V336.32M100.59 332.53L103.76 335.7M100.59 335.7L103.76 332.53M99.07 332.45H103.47M101.27 330.25V334.65M99.68 330.86L102.85 334.03M99.68 334.03L102.85 330.86M100.58 330.4H104.98M102.78 328.2V332.6M101.19 328.81L104.36 331.98M101.19 331.98L104.36 328.81M100.86 328.53H105.26M103.06 326.33V330.73M101.48 326.95L104.65 330.12M101.48 330.12L104.65 326.95M99.63 327.55H104.03M101.83 325.35V329.75M100.25 325.97L103.42 329.13M100.25 329.13L103.42 325.97M98.56 326.43H102.96M100.76 324.23V328.63M99.18 324.85L102.35 328.02M99.18 328.02L102.35 324.85M98.93 325.17H103.33M101.13 322.97V327.37M99.55 323.59L102.72 326.75M99.55 326.75L102.72 323.59M98.49 323.85H102.89M100.69 321.65V326.05M99.11 322.26L102.28 325.43M99.11 325.43L102.28 322.26M98.92 321.94H103.32M101.12 319.74V324.14M99.54 320.36L102.7 323.53M99.54 323.53L102.7 320.36" stroke="#0000f0" stroke-width="1.0" fill="none"/>
<path d="M105.25 316.9H109.75M107.5 314.65V319.15M105.88 315.28L109.12 318.52M105.88 318.52L109.12 315.28M111.55 315.3H116.05M113.8 313.05V317.55M112.18 313.68L115.42 316.92M112.18 316.92L115.42 313.68M112.15 317.4H116.65M114.4 315.15V319.65M112.78 315.78L116.02 319.02M112.78 319.02L116.02 315.78M121.65 319.5H126.15M123.9 317.25V321.75M122.28 317.88L125.52 321.12M122.28 321.12L125.52 317.88" stroke="#0c0cc8" stroke-width="0.9" fill="none"/>
<path d="M75 335.1L76.8 333.2L79.5 331.3L82 329.3L84.5 327.3L87.5 324.8L91.4 323L94.8 322.5L97 323.7L97.8 327.5L99 332L99.4 335.1L100 340.5L97.3 341.2L88.9 341L80.4 340.3L76.6 338.2Z" fill="#ff0000" stroke="#ff0000" stroke-width="0.3" stroke-linejoin="round"/>
<circle cx="75.67" cy="335.62" r="2.1" fill="none" stroke="#ff0000" stroke-width="0.9"/>
<circle cx="78.69" cy="335.46" r="2.1" fill="none" stroke="#ff0000" stroke-width="0.9"/>
<circle cx="79.98" cy="334.8" r="2.1" fill="none" stroke="#ff0000" stroke-width="0.9"/>
<circle cx="79.63" cy="331.43" r="2.1" fill="none" stroke="#ff0000" stroke-width="0.9"/>
<circle cx="81.1" cy="330.63" r="2.1" fill="none" stroke="#ff0000" stroke-width="0.9"/>
<circle cx="83.26" cy="330.39" r="2.1" fill="none" stroke="#ff0000" stroke-width="0.9"/>
<circle cx="85.4" cy="330.71" r="2.1" fill="none" stroke="#ff0000" stroke-width="0.9"/>
<circle cx="85.61" cy="328.51" r="2.1" fill="none" stroke="#ff0000" stroke-width="0.9"/>
<circle cx="87.28" cy="327.65" r="2.1" fill="none" stroke="#ff0000" stroke-width="0.9"/>
<circle cx="88.33" cy="326.14" r="2.1" fill="none" stroke="#ff0000" stroke-width="0.9"/>
<circle cx="90.06" cy="326.55" r="2.1" fill="none" stroke="#ff0000" stroke-width="0.9"/>
<circle cx="91.1" cy="324.9" r="2.1" fill="none" stroke="#ff0000" stroke-width="0.9"/>
<circle cx="91.74" cy="323.29" r="2.1" fill="none" stroke="#ff0000" stroke-width="0.9"/>
<circle cx="92.83" cy="323.35" r="2.1" fill="none" stroke="#ff0000" stroke-width="0.9"/>
<circle cx="94.12" cy="323.82" r="2.1" fill="none" stroke="#ff0000" stroke-width="0.9"/>
<circle cx="96.28" cy="323.49" r="2.1" fill="none" stroke="#ff0000" stroke-width="0.9"/>
<circle cx="96.33" cy="325.63" r="2.1" fill="none" stroke="#ff0000" stroke-width="0.9"/>
<circle cx="96.52" cy="327.87" r="2.1" fill="none" stroke="#ff0000" stroke-width="0.9"/>
<circle cx="95.92" cy="329.83" r="2.1" fill="none" stroke="#ff0000" stroke-width="0.9"/>
<circle cx="96.16" cy="330.75" r="2.1" fill="none" stroke="#ff0000" stroke-width="0.9"/>
<circle cx="97.58" cy="331.97" r="2.1" fill="none" stroke="#ff0000" stroke-width="0.9"/>
<circle cx="96.01" cy="333.98" r="2.1" fill="none" stroke="#ff0000" stroke-width="0.9"/>
<circle cx="97.26" cy="335.36" r="2.1" fill="none" stroke="#ff0000" stroke-width="0.9"/>
<circle cx="98.25" cy="337.36" r="2.1" fill="none" stroke="#ff0000" stroke-width="0.9"/>
<circle cx="96.82" cy="338.99" r="2.1" fill="none" stroke="#ff0000" stroke-width="0.9"/>
<circle cx="99.41" cy="339.28" r="2.1" fill="none" stroke="#ff0000" stroke-width="0.9"/>
<circle cx="97.76" cy="338.09" r="2.1" fill="none" stroke="#ff0000" stroke-width="0.9"/>
<circle cx="96.17" cy="338.26" r="2.1" fill="none" stroke="#ff0000" stroke-width="0.9"/>
<circle cx="94.37" cy="339.95" r="2.1" fill="none" stroke="#ff0000" stroke-width="0.9"/>
<circle cx="93.42" cy="338.83" r="2.1" fill="none" stroke="#ff0000" stroke-width="0.9"/>
<circle cx="91.56" cy="340.13" r="2.1" fill="none" stroke="#ff0000" stroke-width="0.9"/>
<circle cx="90.08" cy="339" r="2.1" fill="none" stroke="#ff0000" stroke-width="0.9"/>
<circle cx="89.34" cy="338.46" r="2.1" fill="none" stroke="#ff0000" stroke-width="0.9"/>
<circle cx="87.69" cy="340.13" r="2.1" fill="none" stroke="#ff0000" stroke-width="0.9"/>
<circle cx="86.28" cy="339.04" r="2.1" fill="none" stroke="#ff0000" stroke-width="0.9"/>
<circle cx="85.25" cy="337.91" r="2.1" fill="none" stroke="#ff0000" stroke-width="0.9"/>
<circle cx="83.6" cy="339.76" r="2.1" fill="none" stroke="#ff0000" stroke-width="0.9"/>
<circle cx="82.14" cy="338.34" r="2.1" fill="none" stroke="#ff0000" stroke-width="0.9"/>
<circle cx="80.8" cy="340.33" r="2.1" fill="none" stroke="#ff0000" stroke-width="0.9"/>
<circle cx="80.84" cy="336.77" r="2.1" fill="none" stroke="#ff0000" stroke-width="0.9"/>
<circle cx="78.51" cy="337.83" r="2.1" fill="none" stroke="#ff0000" stroke-width="0.9"/>
<circle cx="77.79" cy="337.47" r="2.1" fill="none" stroke="#ff0000" stroke-width="0.9"/>
<circle cx="78.23" cy="335.61" r="2.1" fill="none" stroke="#ff0000" stroke-width="0.9"/>
<path d="M129.6 322L131 320.6L134 320L139 319.6L145 320L148 320.5L150 320L154 320L157 321L158.5 324L157 327L152 327.6L146 329.4L139 330.8L132 330.8L129.6 328Z" fill="#000000" stroke="#000000" stroke-width="0.3" stroke-linejoin="round"/>
<path d="M128.85 323.93H133.65M131.25 321.53V326.33M129.22 323.12H134.02M131.62 320.72V325.52M130.24 321.81H135.04M132.64 319.41V324.21M131.46 321.98H136.26M133.86 319.58V324.38M133.46 322.31H138.26M135.86 319.91V324.71M135.4 321H140.2M137.8 318.6V323.4M136.14 322.06H140.94M138.54 319.66V324.46M138.02 321.83H142.82M140.42 319.43V324.23M139.59 321.04H144.39M141.99 318.64V323.44M141.2 321.59H146M143.6 319.19V323.99M141.91 321.49H146.71M144.31 319.09V323.89M143.75 321.83H148.55M146.15 319.43V324.23M146.09 323.21H150.89M148.49 320.81V325.61M147.72 323.02H152.52M150.12 320.62V325.42M149.45 320.42H154.25M151.85 318.02V322.82M150.69 322.99H155.49M153.09 320.59V325.39M152.33 323.27H157.13M154.73 320.87V325.67M152.9 321.45H157.7M155.3 319.05V323.85M153.36 322.98H158.16M155.76 320.58V325.38M154.22 322.83H159.02M156.62 320.43V325.23M153.56 324.28H158.36M155.96 321.88V326.68M154.17 324.7H158.97M156.57 322.3V327.1M152.88 325.08H157.68M155.28 322.68V327.48M150.6 324.99H155.4M153 322.59V327.39M149.34 326.41H154.14M151.74 324.01V328.81M147.84 327.57H152.64M150.24 325.17V329.97M145.7 325.74H150.5M148.1 323.34V328.14M144.65 327.88H149.45M147.05 325.48V330.28M143.02 327.1H147.82M145.42 324.7V329.5M141.45 327.71H146.25M143.85 325.31V330.11M140.43 328.49H145.23M142.83 326.09V330.89M138.62 327.7H143.42M141.02 325.3V330.1M137.97 328.87H142.77M140.37 326.47V331.27M136.71 329.45H141.51M139.11 327.05V331.85M135.53 327.51H140.33M137.93 325.11V329.91M133.58 330.02H138.38M135.98 327.62V332.42M132.34 329.75H137.14M134.74 327.35V332.15M130.73 330.38H135.53M133.13 327.98V332.78M131.74 329.09H136.54M134.14 326.69V331.49M130.53 327.54H135.33M132.93 325.14V329.94M129.66 328.39H134.46M132.06 325.99V330.79M129.39 326.68H134.19M131.79 324.28V329.08M130.16 325.34H134.96M132.56 322.94V327.74M127.87 323.48H132.67M130.27 321.08V325.88" stroke="#000000" stroke-width="0.9" fill="none"/>
<path d="M144.4 295.9H149.6M147 293.3V298.5M170.8 295.9H176M173.4 293.3V298.5M178 298.6H183.2M180.6 296V301.2M160.2 300.5H165.4M162.8 297.9V303.1M186.6 296.6H191.8M189.2 294V299.2M162.2 305.8H167.4M164.8 303.2V308.4M170.1 305.8H175.3M172.7 303.2V308.4M174.1 307.1H179.3M176.7 304.5V309.7M150.3 308.4H155.5M152.9 305.8V311M153 311.1H158.2M155.6 308.5V313.7M156.9 311.7H162.1M159.5 309.1V314.3M159.6 310.4H164.8M162.2 307.8V313M164.2 309.8H169.4M166.8 307.2V312.4M166.1 311.1H171.3M168.7 308.5V313.7M176 309.8H181.2M178.6 307.2V312.4M183.9 311.1H189.1M186.5 308.5V313.7M129.3 313.7H134.5M131.9 311.1V316.3M133.9 315H139.1M136.5 312.4V317.6M139.1 313.7H144.3M141.7 311.1V316.3M143.8 315.7H149M146.4 313.1V318.3M156.9 316.4H162.1M159.5 313.8V319M163.5 315H168.7M166.1 312.4V317.6M167.5 317H172.7M170.1 314.4V319.6M174.1 315.7H179.3M176.7 313.1V318.3M160.9 320.3H166.1M163.5 317.7V322.9M167.5 321.6H172.7M170.1 319V324.2M171.4 320.3H176.6M174 317.7V322.9M175.4 321.6H180.6M178 319V324.2M179.3 322.3H184.5M181.9 319.7V324.9M185.9 324.3H191.1M188.5 321.7V326.9M156.9 324.3H162.1M159.5 321.7V326.9M163.5 324.9H168.7M166.1 322.3V327.5M170.1 325.6H175.3M172.7 323V328.2M175.4 324.9H180.6M178 322.3V327.5M154.3 327.5H159.5M156.9 324.9V330.1M160.9 327.5H166.1M163.5 324.9V330.1M188 296.5H193.2M190.6 293.9V299.1M187 303.5H192.2M189.6 300.9V306.1M191 303.5H196.2M193.6 300.9V306.1M201.9 304.4H207.1M204.5 301.8V307M177.2 310.3H182.4M179.8 307.7V312.9M184.4 311.4H189.6M187 308.8V314M160 312.3H165.2M162.6 309.7V314.9M175.8 315.6H181M178.4 313V318.2M173.2 322.2H178.4M175.8 319.6V324.8M154.4 311.1H159.6M157 308.5V313.7M184 311.1H189.2M186.6 308.5V313.7M147 314.8H152.2M149.6 312.2V317.4M164.6 313.9H169.8M167.2 311.3V316.5M173.8 313.9H179M176.4 311.3V316.5M158.1 319.9H163.3M160.7 317.3V322.5M165 320.3H170.2M167.6 317.7V322.9M171.5 318.5H176.7M174.1 315.9V321.1M177.1 321.7H182.3M179.7 319.1V324.3M158.1 325H163.3M160.7 322.4V327.6M161.8 324H167M164.4 321.4V326.6M167.4 325.9H172.6M170 323.3V328.5M172.9 324.5H178.1M175.5 321.9V327.1M147.9 327.7H153.1M150.5 325.1V330.3M154.4 319H159.6M157 316.4V321.6M156.4 322H161.6M159 319.4V324.6M164.4 326H169.6M167 323.4V328.6M166.4 319H171.6M169 316.4V321.6M155.4 326.5H160.6M158 323.9V329.1M159.4 328H164.6M162 325.4V330.6M163.4 321H168.6M166 318.4V323.6M165.4 328H170.6M168 325.4V330.6M169.4 319H174.6M172 316.4V321.6M171.4 322.5H176.6M174 319.9V325.1M173.4 326H178.6M176 323.4V328.6M157.4 318.5H162.6M160 315.9V321.1M285.1 210H290.3M287.7 207.4V212.6M168 324.9H173.2M170.6 322.3V327.5M172.3 327.3H177.5M174.9 324.7V329.9M170.9 327.1H176.1M173.5 324.5V329.7M153.1 321.6H158.3M155.7 319V324.2M176 323.8H181.2M178.6 321.2V326.4M174.9 317.4H180.1M177.5 314.8V320M164.1 319H169.3M166.7 316.4V321.6M166 322.9H171.2M168.6 320.3V325.5M152.7 318.6H157.9M155.3 316V321.2M159.4 327H164.6M162 324.4V329.6M171.5 317.9H176.7M174.1 315.3V320.5M172.3 317.7H177.5M174.9 315.1V320.3M167.8 317.5H173M170.4 314.9V320.1M152.4 326.5H157.6M155 323.9V329.1M157.6 318.6H162.8M160.2 316V321.2M177 326.5H182.2M179.6 323.9V329.1M159.6 327.5H164.8M162.2 324.9V330.1M165.9 324.1H171.1M168.5 321.5V326.7M132.7 318.7H137.9M135.3 316.1V321.3M142.9 318.8H148.1M145.5 316.2V321.4M147.2 315.5H152.4M149.8 312.9V318.1M136 314.8H141.2M138.6 312.2V317.4M131.5 314.3H136.7M134.1 311.7V316.9M134.7 317H139.9M137.3 314.4V319.6M128.5 317.4H133.7M131.1 314.8V320" stroke="#111" stroke-width="0.7" fill="none"/>
<rect x="104.3" y="328.2" width="5.8" height="5.8" fill="#ff0000"/>
<rect x="150" y="318.1" width="5.8" height="5.8" fill="#ff0000"/>
<rect x="32.5" y="209.5" width="277" height="140.8" fill="none" stroke="#808080" stroke-width="1"/>
<text x="32.5" y="362.3" text-anchor="middle" font-size="9.3" font-weight="bold" class="t">0</text>
<text x="78.67" y="362.3" text-anchor="middle" font-size="9.3" font-weight="bold" class="t">10</text>
<text x="124.83" y="362.3" text-anchor="middle" font-size="9.3" font-weight="bold" class="t">20</text>
<text x="171" y="362.3" text-anchor="middle" font-size="9.3" font-weight="bold" class="t">30</text>
<text x="217.17" y="362.3" text-anchor="middle" font-size="9.3" font-weight="bold" class="t">40</text>
<text x="263.33" y="362.3" text-anchor="middle" font-size="9.3" font-weight="bold" class="t">50</text>
<text x="309.5" y="362.3" text-anchor="middle" font-size="9.3" font-weight="bold" class="t">60</text>
<text x="29.5" y="353.9" text-anchor="end" font-size="9.3" font-weight="bold" class="t">5</text>
<text x="29.5" y="336.3" text-anchor="end" font-size="9.3" font-weight="bold" class="t">10</text>
<text x="29.5" y="318.7" text-anchor="end" font-size="9.3" font-weight="bold" class="t">15</text>
<text x="29.5" y="301.1" text-anchor="end" font-size="9.3" font-weight="bold" class="t">20</text>
<text x="29.5" y="283.5" text-anchor="end" font-size="9.3" font-weight="bold" class="t">25</text>
<text x="29.5" y="265.9" text-anchor="end" font-size="9.3" font-weight="bold" class="t">30</text>
<text x="29.5" y="248.3" text-anchor="end" font-size="9.3" font-weight="bold" class="t">35</text>
<text x="29.5" y="230.7" text-anchor="end" font-size="9.3" font-weight="bold" class="t">40</text>
<text x="29.5" y="213.1" text-anchor="end" font-size="9.3" font-weight="bold" class="t">45</text>
<path d="M32.5 350.3v-3M32.5 209.5v3M78.67 350.3v-3M78.67 209.5v3M124.83 350.3v-3M124.83 209.5v3M171 350.3v-3M171 209.5v3M217.17 350.3v-3M217.17 209.5v3M263.33 350.3v-3M263.33 209.5v3M309.5 350.3v-3M309.5 209.5v3M32.5 350.3h3M309.5 350.3h-3M32.5 332.7h3M309.5 332.7h-3M32.5 315.1h3M309.5 315.1h-3M32.5 297.5h3M309.5 297.5h-3M32.5 279.9h3M309.5 279.9h-3M32.5 262.3h3M309.5 262.3h-3M32.5 244.7h3M309.5 244.7h-3M32.5 227.1h3M309.5 227.1h-3M32.5 209.5h3M309.5 209.5h-3" stroke="#505050" stroke-width="0.9" fill="none"/>
<text x="171" y="373.1" text-anchor="middle" font-size="9" font-weight="bold">SV1</text>
<text transform="translate(16.4 280) rotate(-90)" text-anchor="middle" font-size="9" font-weight="bold">SV2</text>
<text x="282.2" y="223.2" font-size="9.3" font-weight="bold">c</text>
<rect x="227.1" y="302.1" width="80.3" height="45.2" fill="#fff" stroke="#767676" stroke-width="0.9"/>
<path d="M235.9 308.9H240.5M238.2 306.6V311.2M236.54 307.24L239.86 310.56M236.54 310.56L239.86 307.24" stroke="#0c0cc8" stroke-width="1.0" fill="none"/>
<text x="248.8" y="312.1" font-size="9.2" font-weight="bold">Slight</text>
<circle cx="238.2" cy="319.9" r="2.5" fill="none" stroke="#bc3038" stroke-width="0.9"/>
<text x="248.8" y="323.2" font-size="9.2" font-weight="bold">Normal</text>
<path d="M235.6 330.6H240.8M238.2 328V333.2" stroke="#000000" stroke-width="0.8" fill="none"/>
<text x="248.8" y="333.8" font-size="9.2" font-weight="bold">Severe</text>
<rect x="235.3" y="338.8" width="5.8" height="5.8" fill="#ff0000"/>
<text x="248.8" y="344.9" font-size="9.2" font-weight="bold">Cluster center</text>
<text x="535.75" y="206.7" text-anchor="middle" font-size="9.3" font-weight="bold">EEMD-SVD-k-medoids-bear14</text>
<path d="M483.55 317.8H488.05M485.8 315.55V320.05M484.18 316.18L487.42 319.42M484.18 319.42L487.42 316.18M496.95 303.7H501.45M499.2 301.45V305.95M497.58 302.08L500.82 305.32M497.58 305.32L500.82 302.08M504.65 297.1H509.15M506.9 294.85V299.35M505.28 295.48L508.52 298.72M505.28 298.72L508.52 295.48M516.75 301.1H521.25M519 298.85V303.35M517.38 299.48L520.62 302.72M517.38 302.72L520.62 299.48M522.45 293.2H526.95M524.7 290.95V295.45M523.08 291.58L526.32 294.82M523.08 294.82L526.32 291.58M522.05 302.4H526.55M524.3 300.15V304.65M522.68 300.78L525.92 304.02M522.68 304.02L525.92 300.78M524.45 301.7H528.95M526.7 299.45V303.95M525.08 300.08L528.32 303.32M525.08 303.32L528.32 300.08M526.75 303.7H531.25M529 301.45V305.95M527.38 302.08L530.62 305.32M527.38 305.32L530.62 302.08M529.65 299.8H534.15M531.9 297.55V302.05M530.28 298.18L533.52 301.42M530.28 301.42L533.52 298.18M532.35 298.4H536.85M534.6 296.15V300.65M532.98 296.78L536.22 300.02M532.98 300.02L536.22 296.78M534.95 299.8H539.45M537.2 297.55V302.05M535.58 298.18L538.82 301.42M535.58 301.42L538.82 298.18M523.05 302.3H527.55M525.3 300.05V304.55M523.68 300.68L526.92 303.92M523.68 303.92L526.92 300.68M526.95 303.6H531.45M529.2 301.35V305.85M527.58 301.98L530.82 305.22M527.58 305.22L530.82 301.98M530.25 299.6H534.75M532.5 297.35V301.85M530.88 297.98L534.12 301.22M530.88 301.22L534.12 297.98M534.25 298.3H538.75M536.5 296.05V300.55M534.88 296.68L538.12 299.92M534.88 299.92L538.12 296.68M535.55 301.6H540.05M537.8 299.35V303.85M536.18 299.98L539.42 303.22M536.18 303.22L539.42 299.98M559.25 296.1H563.75M561.5 293.85V298.35M559.88 294.48L563.12 297.72M559.88 297.72L563.12 294.48M569.15 279.9H573.65M571.4 277.65V282.15M569.78 278.28L573.02 281.52M569.78 281.52L573.02 278.28M569.15 287.1H573.65M571.4 284.85V289.35M569.78 285.48L573.02 288.72M569.78 288.72L573.02 285.48M574.45 290.4H578.95M576.7 288.15V292.65M575.08 288.78L578.32 292.02M575.08 292.02L578.32 288.78M575.75 278.6H580.25M578 276.35V280.85M576.38 276.98L579.62 280.22M576.38 280.22L579.62 276.98M578.35 279.9H582.85M580.6 277.65V282.15M578.98 278.28L582.22 281.52M578.98 281.52L582.22 278.28M581.65 282.5H586.15M583.9 280.25V284.75M582.28 280.88L585.52 284.12M582.28 284.12L585.52 280.88M581.65 286.5H586.15M583.9 284.25V288.75M582.28 284.88L585.52 288.12M582.28 288.12L585.52 284.88M586.25 279.2H590.75M588.5 276.95V281.45M586.88 277.58L590.12 280.82M586.88 280.82L590.12 277.58" stroke="#0c0cc8" stroke-width="0.9" fill="none"/>
<circle cx="597.7" cy="235.3" r="2.5" fill="none" stroke="#bc3038" stroke-width="0.9"/>
<circle cx="629.1" cy="225.7" r="2.5" fill="none" stroke="#bc3038" stroke-width="0.9"/>
<circle cx="665.6" cy="227" r="2.5" fill="none" stroke="#bc3038" stroke-width="0.9"/>
<circle cx="650.8" cy="234.4" r="2.5" fill="none" stroke="#bc3038" stroke-width="0.9"/>
<circle cx="632.5" cy="235.3" r="2.5" fill="none" stroke="#bc3038" stroke-width="0.9"/>
<circle cx="632.8" cy="239.6" r="2.5" fill="none" stroke="#bc3038" stroke-width="0.9"/>
<circle cx="631.9" cy="242.7" r="2.5" fill="none" stroke="#bc3038" stroke-width="0.9"/>
<circle cx="620.8" cy="239.6" r="2.5" fill="none" stroke="#bc3038" stroke-width="0.9"/>
<circle cx="612.1" cy="242.7" r="2.5" fill="none" stroke="#bc3038" stroke-width="0.9"/>
<circle cx="607" cy="244.2" r="2.5" fill="none" stroke="#bc3038" stroke-width="0.9"/>
<circle cx="603.3" cy="246.1" r="2.5" fill="none" stroke="#bc3038" stroke-width="0.9"/>
<circle cx="601.4" cy="246.8" r="2.5" fill="none" stroke="#bc3038" stroke-width="0.9"/>
<circle cx="602.9" cy="249.2" r="2.5" fill="none" stroke="#bc3038" stroke-width="0.9"/>
<circle cx="609.4" cy="249.8" r="2.5" fill="none" stroke="#bc3038" stroke-width="0.9"/>
<circle cx="600.1" cy="257.1" r="2.5" fill="none" stroke="#bc3038" stroke-width="0.9"/>
<circle cx="606" cy="268.2" r="2.5" fill="none" stroke="#bc3038" stroke-width="0.9"/>
<circle cx="604.2" cy="270.5" r="2.5" fill="none" stroke="#bc3038" stroke-width="0.9"/>
<circle cx="607" cy="273.2" r="2.5" fill="none" stroke="#bc3038" stroke-width="0.9"/>
<circle cx="612.5" cy="243.7" r="2.5" fill="none" stroke="#bc3038" stroke-width="0.9"/>
<path d="M404.2 337.2L405.5 334.5L407 332.2L409.5 330.2L412.7 329.2L416.5 328.5L419 329.8L422.2 330.8L425.3 333L427.5 334.9L426.6 337.2L424.4 340L420.9 341.2L417.7 341L412.7 341.2L407.6 342.3L405 340.4Z" fill="#000000" stroke="#000000" stroke-width="0.3" stroke-linejoin="round"/>
<path d="M404.3 338.51H409.1M406.7 336.11V340.91M402.85 336.04H407.65M405.25 333.64V338.44M404.61 335.49H409.41M407.01 333.09V337.89M405.82 333.75H410.62M408.22 331.35V336.15M407.69 333.07H412.49M410.09 330.67V335.47M407.63 332.59H412.43M410.03 330.19V334.99M409.3 331.7H414.1M411.7 329.3V334.1M411 331.77H415.8M413.4 329.37V334.17M412.48 330.17H417.28M414.88 327.77V332.57M413.35 330.15H418.15M415.75 327.75V332.55M413.98 331.45H418.78M416.38 329.05V333.85M416.3 329.73H421.1M418.7 327.33V332.13M417.5 331.98H422.3M419.9 329.58V334.38M418.6 332.31H423.4M421 329.91V334.71M419.99 334.42H424.79M422.39 332.02V336.82M421.21 334.96H426.01M423.61 332.56V337.36M422.8 335.86H427.6M425.2 333.46V338.26M422.68 333.61H427.48M425.08 331.21V336.01M422.07 335.14H426.87M424.47 332.74V337.54M422 337.97H426.8M424.4 335.57V340.37M420.82 337.27H425.62M423.22 334.87V339.67M419.27 338.97H424.07M421.67 336.57V341.37M418.61 338.06H423.41M421.01 335.66V340.46M417 341.16H421.8M419.4 338.76V343.56M415.47 338.46H420.27M417.87 336.06V340.86M413.32 338.48H418.12M415.72 336.08V340.88M411.68 338.91H416.48M414.08 336.51V341.31M409.59 338.4H414.39M411.99 336V340.8M408.45 341.04H413.25M410.85 338.64V343.44M406.23 339.84H411.03M408.63 337.44V342.24M406.38 341.36H411.18M408.78 338.96V343.76M404.32 340.57H409.12M406.72 338.17V342.97M405.08 340.09H409.88M407.48 337.69V342.49M403.41 338.32H408.21M405.81 335.92V340.72" stroke="#000000" stroke-width="0.9" fill="none"/>
<path d="M429.4 328.4H434.6M432 325.8V331M437.7 325H442.9M440.3 322.4V327.6" stroke="#111" stroke-width="0.7" fill="none"/>
<rect x="408.9" y="333.5" width="5.8" height="5.8" fill="#ff0000"/>
<rect x="534.9" y="290.2" width="5.8" height="5.8" fill="#ff0000"/>
<rect x="614.8" y="243.9" width="5.8" height="5.8" fill="#ff0000"/>
<rect x="397" y="209.3" width="277.5" height="141" fill="none" stroke="#808080" stroke-width="1"/>
<text x="397" y="362.3" text-anchor="middle" font-size="9.3" font-weight="bold" class="t">10</text>
<text x="424.75" y="362.3" text-anchor="middle" font-size="9.3" font-weight="bold" class="t">20</text>
<text x="452.5" y="362.3" text-anchor="middle" font-size="9.3" font-weight="bold" class="t">30</text>
<text x="480.25" y="362.3" text-anchor="middle" font-size="9.3" font-weight="bold" class="t">40</text>
<text x="508" y="362.3" text-anchor="middle" font-size="9.3" font-weight="bold" class="t">50</text>
<text x="535.75" y="362.3" text-anchor="middle" font-size="9.3" font-weight="bold" class="t">60</text>
<text x="563.5" y="362.3" text-anchor="middle" font-size="9.3" font-weight="bold" class="t">70</text>
<text x="591.25" y="362.3" text-anchor="middle" font-size="9.3" font-weight="bold" class="t">80</text>
<text x="619" y="362.3" text-anchor="middle" font-size="9.3" font-weight="bold" class="t">90</text>
<text x="646.75" y="362.3" text-anchor="middle" font-size="9.3" font-weight="bold" class="t">100</text>
<text x="674.5" y="362.3" text-anchor="middle" font-size="9.3" font-weight="bold" class="t">110</text>
<text x="394" y="353.9" text-anchor="end" font-size="9.3" font-weight="bold" class="t">0</text>
<text x="394" y="325.7" text-anchor="end" font-size="9.3" font-weight="bold" class="t">20</text>
<text x="394" y="297.5" text-anchor="end" font-size="9.3" font-weight="bold" class="t">40</text>
<text x="394" y="269.3" text-anchor="end" font-size="9.3" font-weight="bold" class="t">60</text>
<text x="394" y="241.1" text-anchor="end" font-size="9.3" font-weight="bold" class="t">80</text>
<text x="394" y="212.9" text-anchor="end" font-size="9.3" font-weight="bold" class="t">100</text>
<path d="M397 350.3v-3M397 209.3v3M424.75 350.3v-3M424.75 209.3v3M452.5 350.3v-3M452.5 209.3v3M480.25 350.3v-3M480.25 209.3v3M508 350.3v-3M508 209.3v3M535.75 350.3v-3M535.75 209.3v3M563.5 350.3v-3M563.5 209.3v3M591.25 350.3v-3M591.25 209.3v3M619 350.3v-3M619 209.3v3M646.75 350.3v-3M646.75 209.3v3M674.5 350.3v-3M674.5 209.3v3M397 350.3h3M674.5 350.3h-3M397 322.1h3M674.5 322.1h-3M397 293.9h3M674.5 293.9h-3M397 265.7h3M674.5 265.7h-3M397 237.5h3M674.5 237.5h-3M397 209.3h3M674.5 209.3h-3" stroke="#505050" stroke-width="0.9" fill="none"/>
<text x="535.75" y="373.1" text-anchor="middle" font-size="9" font-weight="bold">SV1</text>
<text transform="translate(378 279.5) rotate(-90)" text-anchor="middle" font-size="9" font-weight="bold">SV2</text>
<text x="403.8" y="224.8" font-size="9.3" font-weight="bold">d</text>
<rect x="592.4" y="301.5" width="79.3" height="44.6" fill="#fff" stroke="#767676" stroke-width="0.9"/>
<path d="M600.7 307.7H605.3M603 305.4V310M601.34 306.04L604.66 309.36M601.34 309.36L604.66 306.04" stroke="#0c0cc8" stroke-width="1.0" fill="none"/>
<text x="613.2" y="311" font-size="9.2" font-weight="bold">Slight</text>
<circle cx="603" cy="319.1" r="2.5" fill="none" stroke="#bc3038" stroke-width="0.9"/>
<text x="613.2" y="321.9" font-size="9.2" font-weight="bold">Normal</text>
<path d="M600.4 329.8H605.6M603 327.2V332.4" stroke="#000000" stroke-width="0.8" fill="none"/>
<text x="613.2" y="332.9" font-size="9.2" font-weight="bold">Severe</text>
<rect x="600.1" y="337.8" width="5.8" height="5.8" fill="#ff0000"/>
<text x="613.2" y="343.7" font-size="9.2" font-weight="bold">Cluster center</text>
</g>
</svg></body></html>
